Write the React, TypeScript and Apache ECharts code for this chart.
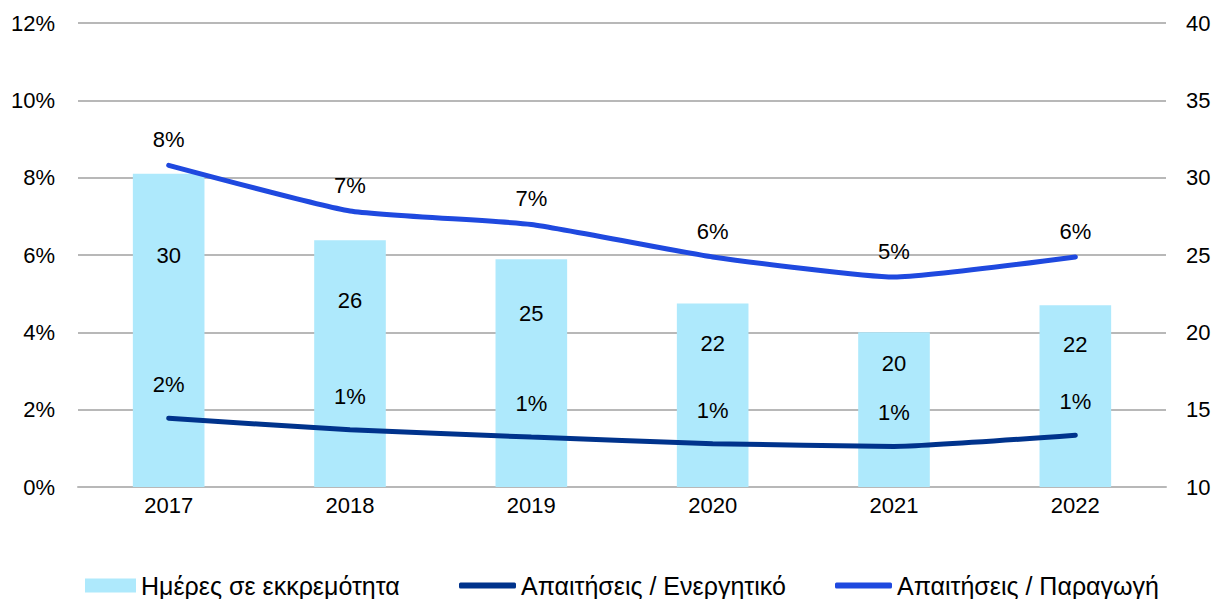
import React, { useEffect, useRef } from "react";
import * as echarts from "echarts";

const categories = ["2017", "2018", "2019", "2020", "2021", "2022"];
const daysPending = [30.26, 25.95, 24.72, 21.86, 20.0, 21.75];
const receivablesToAssets = [1.78, 1.48, 1.29, 1.12, 1.05, 1.34];
const receivablesToProduction = [8.32, 7.14, 6.79, 5.95, 5.43, 5.95];

const seriesNames = ["Ημέρες σε εκκρεμότητα", "Απαιτήσεις / Ενεργητικό", "Απαιτήσεις / Παραγωγή"];

const FONT = "'Liberation Sans', Arial, Helvetica, sans-serif";
const W = 1217;
const H = 599;
const GRID = { left: 78, right: 51, top: 23, bottom: 112 };
const RIGHT_MIN = 10;
const RIGHT_MAX = 40;

const legendText = { fontFamily: FONT, fontSize: 25, color: "#000" };

export default function App() {
  const ref = useRef<HTMLDivElement>(null);

  useEffect(() => {
    if (!ref.current) return;
    const chart = echarts.init(ref.current, undefined, { renderer: "svg" });
    const plotH = H - GRID.top - GRID.bottom;
    const unitPx = plotH / (RIGHT_MAX - RIGHT_MIN);

    const barData = daysPending.map((v) => {
      const centerOffset = (0.32 * v - 4.4) * unitPx;
      return {
        value: v,
        label: { position: "insideTop", distance: Math.max(0, centerOffset - 11) },
      };
    });

    chart.setOption({
      animation: false,
      textStyle: { fontFamily: FONT },
      grid: { ...GRID, containLabel: false },
      legend: [
        {
          left: 85,
          top: 573,
          padding: 0,
          itemWidth: 51,
          itemHeight: 14,
          itemGap: 5,
          icon: "rect",
          data: [seriesNames[0]],
          textStyle: legendText,
          selectedMode: false,
        },
        {
          left: 459,
          top: 573,
          padding: 0,
          itemWidth: 57,
          itemHeight: 6,
          icon: "roundRect",
          data: [seriesNames[1]],
          textStyle: legendText,
          selectedMode: false,
        },
        {
          left: 835,
          top: 573,
          padding: 0,
          itemWidth: 57,
          itemHeight: 6,
          icon: "roundRect",
          data: [seriesNames[2]],
          textStyle: legendText,
          selectedMode: false,
        },
      ],
      xAxis: {
        type: "category",
        data: categories,
        boundaryGap: true,
        axisTick: { show: false },
        axisLine: { lineStyle: { color: "#b8b8b8", width: 2 } },
        axisLabel: { color: "#000", fontSize: 22, fontFamily: FONT, margin: 7 },
      },
      yAxis: [
        {
          type: "value",
          min: 0,
          max: 12,
          interval: 2,
          axisLine: { show: false },
          axisTick: { show: false },
          splitLine: { lineStyle: { color: "#b8b8b8", width: 2 } },
          axisLabel: { color: "#000", fontSize: 22, fontFamily: FONT, margin: 23, formatter: "{value}%" },
        },
        {
          type: "value",
          min: RIGHT_MIN,
          max: RIGHT_MAX,
          interval: 5,
          position: "right",
          axisLine: { show: false },
          axisTick: { show: false },
          splitLine: { show: false },
          axisLabel: { color: "#000", fontSize: 22, fontFamily: FONT, margin: 20, align: "left" },
        },
      ],
      series: [
        {
          name: seriesNames[0],
          type: "bar",
          yAxisIndex: 1,
          data: barData,
          barWidth: "39.5%",
          itemStyle: { color: "#aee9fc" },
          label: {
            show: true,
            color: "#000",
            fontSize: 22,
            fontFamily: FONT,
            formatter: (p: any) => String(Math.round(p.value)),
          },
          z: 2,
        },
        {
          name: seriesNames[1],
          type: "line",
          yAxisIndex: 0,
          data: receivablesToAssets,
          smooth: 0.15,
          symbol: "circle",
          symbolSize: 1,
          showSymbol: true,
          lineStyle: { color: "#00338c", width: 5, cap: "round" },
          itemStyle: { color: "#00338c" },
          label: {
            show: true,
            position: "top",
            distance: 22,
            color: "#000",
            fontSize: 22,
            fontFamily: FONT,
            formatter: (p: any) => Math.round(p.value) + "%",
          },
          z: 3,
        },
        {
          name: seriesNames[2],
          type: "line",
          yAxisIndex: 0,
          data: receivablesToProduction,
          smooth: 0.15,
          symbol: "circle",
          symbolSize: 1,
          showSymbol: true,
          lineStyle: { color: "#1f49df", width: 5, cap: "round" },
          itemStyle: { color: "#1f49df" },
          label: {
            show: true,
            position: "top",
            distance: 14,
            color: "#000",
            fontSize: 22,
            fontFamily: FONT,
            formatter: (p: any) => Math.round(p.value) + "%",
          },
          z: 3,
        },
      ],
    });

    return () => chart.dispose();
  }, []);

  return (
    <div
      ref={ref}
      style={{ position: "fixed", left: 0, top: 0, width: W, height: H, background: "#fff" }}
    />
  );
}
